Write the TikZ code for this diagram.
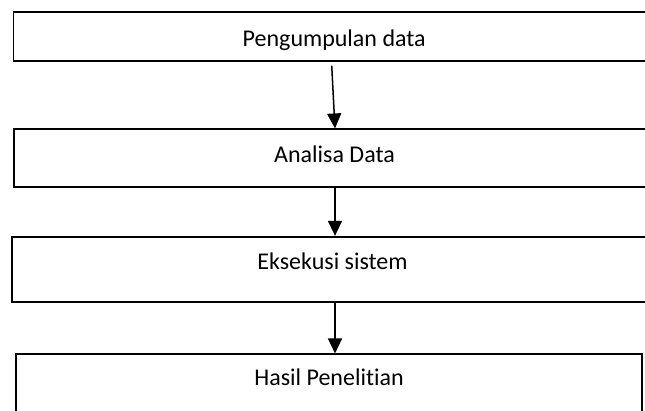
\documentclass[tikz,border=0pt]{standalone}
\usepackage{fontspec}
\setmainfont[Ligatures=NoCommon]{Carlito}
\usetikzlibrary{arrows.meta}
\tikzset{
  box/.style={draw=black, line width=1.7pt, rectangle, inner sep=0pt, fill=none},
  lbl/.style={anchor=base, inner sep=0pt, font=\fontsize{24}{29}\selectfont},
  arr/.style={draw=black, line width=1.5pt, -{Triangle[width=14pt,length=15pt]}}
}
\begin{document}
\begin{tikzpicture}[x=1pt,y=-1pt]
\useasboundingbox (0,0) rectangle (645,411);
\clip (0,0) rectangle (645,411);
\fill[white] (0,0) rectangle (645,411);
\node[box, minimum width=641.5pt, minimum height=48.4pt] (b1) at (334.25,36.5) {};
\node[box, minimum width=641.3pt, minimum height=58pt] (b2) at (334.35,158.3) {};
\node[box, minimum width=643.7pt, minimum height=65pt] (b3) at (334.15,269.2) {};
\node[box, minimum width=626.6pt, minimum height=70pt] (b4) at (329,389.3) {};
\node[lbl] (t1) at (334.2,46.7) {Pengumpulan data};
\node[lbl] (t2) at (334.5,162.7) {Analisa Data};
\node[lbl] (t3) at (332.5,270) {Eksekusi sistem};
\node[lbl] (t4) at (329,385) {Hasil Penelitian};
\coordinate (s1) at ([yshift=-4pt]331.7,0 |- b1.south);
\draw[arr] (s1) -- (335,0 |- b2.north);
\draw[arr] (335,0 |- b2.south) -- (335,0 |- b3.north);
\draw[arr] (335,0 |- b3.south) -- (335,0 |- b4.north);
\end{tikzpicture}
\end{document}
